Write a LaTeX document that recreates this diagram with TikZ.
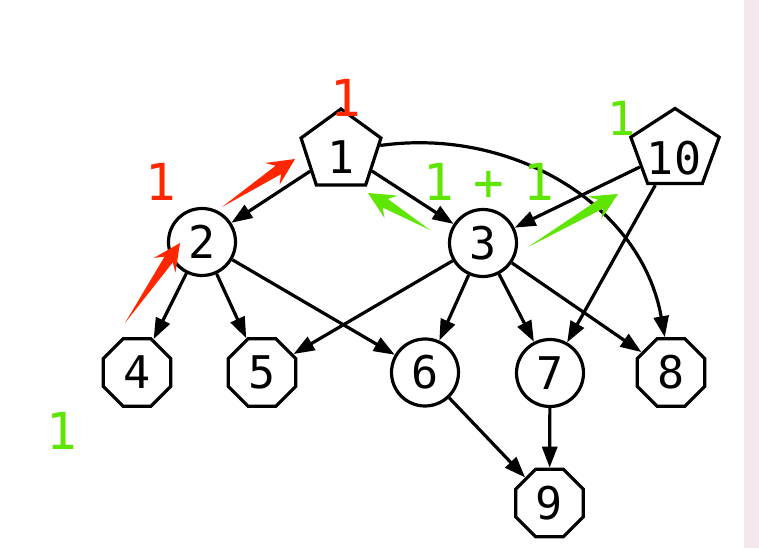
\documentclass[tikz,border=0pt]{standalone}
\usepackage{fontspec}
\usetikzlibrary{shapes.geometric,arrows.meta,calc}
\newfontfamily\dmono{DejaVu Sans Mono}
\definecolor{lred}{RGB}{255,38,0}
\definecolor{lgreen}{RGB}{94,230,0}
\definecolor{stripcol}{RGB}{242,231,236}
\newcommand{\fatarrow}[3]{%
  \coordinate (fa-h) at ($(#2)!20pt!(#1)$);
  \coordinate (fa-b) at ($(#2)!27pt!(#1)$);
  \fill[#3] (#1) -- ($(fa-h)!5pt!90:(#2)$) -- ($(fa-b)!13pt!90:(#2)$) -- (#2)
    -- ($(fa-b)!13pt!-90:(#2)$) -- ($(fa-h)!5pt!-90:(#2)$) -- cycle;}
\tikzset{
  nd/.style={draw, line width=3.2pt, fill=white, inner sep=0pt,
    font=\dmono\fontsize{45}{45}\selectfont},
  circ/.style={nd, circle, minimum size=67pt},
  oct/.style={nd, regular polygon, regular polygon sides=8, minimum size=73pt},
  pent/.style={nd, regular polygon, regular polygon sides=5, minimum size=84pt},
  txt/.style={inner sep=0pt, font=\dmono\fontsize{45}{45}\selectfont},
  edge/.style={line width=3.2pt, -{Triangle[length=21pt,width=15pt]}},
  lbl/.style={inner sep=0pt, font=\dmono\fontsize{51}{51}\selectfont},
}
\begin{document}
\begin{tikzpicture}[x=1pt,y=1pt]
\fill[white] (0,0) rectangle (759,548);
\fill[stripcol] (744,0) rectangle (759,548);
\useasboundingbox (0,0) rectangle (759,548);

% nodes
\node[pent] (n1) at (341,397) {};
\begin{scope}[shift={(675,398)}, xscale=1.12]
  \node[pent, transform shape, minimum size=83pt] (n10) at (0,0) {};
\end{scope}
\node[txt] (t1) at (341,391) {1};
\node[txt] (t10) at (674,390) {10};
\node[circ] (n2) at (202,306) {2};
\node[circ] (n3) at (483,305) {3};
\node[oct] (n4) at (137,175.5) {4};
\node[oct] (n5) at (262,175.5) {5};
\node[circ] (n6) at (425,175.5) {6};
\node[circ] (n7) at (550,175) {7};
\node[oct] (n8) at (671,175.5) {8};
\node[oct] (n9) at (549.5,45) {9};

% edges
\draw[edge] (n1) -- (n2);
\draw[edge] (n1) -- (n3);
\draw[edge] (n1) to[out=8, in=100] (n8);
\draw[edge] (n10) -- (n3);
\draw[edge] (n10) -- (n7);
\draw[edge] (n2) -- (n4);
\draw[edge] (n2) -- (n5);
\draw[edge] (n2) -- (n6);
\draw[edge] (n3) -- (n5);
\draw[edge] (n3) -- (n6);
\draw[edge] (n3) -- (n7);
\draw[edge] (n3) -- (n8);
\draw[edge] (n6) -- (n9);
\draw[edge] (n7) -- (n9);

% fat annotation arrows
\coordinate (ra1) at (222,341); \coordinate (ra2) at (295,389);
\coordinate (rb1) at (125,225); \coordinate (rb2) at (180,305);
\coordinate (ga1) at (430,318); \coordinate (ga2) at (368,355);
\coordinate (gb1) at (528,301); \coordinate (gb2) at (618,354);
\fatarrow{ra1}{ra2}{lred}
\fatarrow{rb1}{rb2}{lred}
\fatarrow{ga1}{ga2}{lgreen}
\fatarrow{gb1}{gb2}{lgreen}

% labels
\node[lbl, text=lred] (l1) at (346,450) {1};
\node[lbl, text=lred] (l2) at (160.5,366) {1};
\node[lbl, text=lgreen, font=\dmono\fontsize{47}{47}\selectfont] (l10) at (622,430) {1};
\node[lbl, text=lgreen] (l3) at (488.5,366.5) {1\kern-11.4pt\ +\ \kern-11.4pt1};
\node[lbl, text=lgreen] (l0) at (61.5,117.5) {1};
\end{tikzpicture}
\end{document}
